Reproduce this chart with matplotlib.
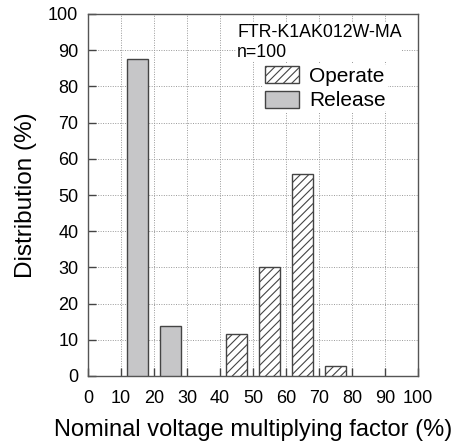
import matplotlib
matplotlib.use("Agg")
import matplotlib.pyplot as plt
from matplotlib.patches import Patch

plt.rcParams['font.family'] = ['Liberation Sans', 'DejaVu Sans']
plt.rcParams['hatch.linewidth'] = 0.8

release_x = [15, 25]
release_vals = [87.5, 13.8]
operate_x = [45, 55, 65, 75]
operate_vals = [11.6, 30.0, 55.8, 2.8]
ticks = [0, 10, 20, 30, 40, 50, 60, 70, 80, 90, 100]
model = "FTR-K1AK012W-MA"
n_text = "n=100"

fig = plt.figure(figsize=(4.64, 4.45), dpi=100)
ax = fig.add_axes([88/464, 1-376/445, (418-88)/464, (376-14)/445])

edge = '#444444'
grey = '#c6c6c8'
ax.bar(release_x, release_vals, width=6.4, color=grey, edgecolor=edge, linewidth=1.0, zorder=3)
ax.bar(operate_x, operate_vals, width=6.4, color='white', edgecolor=edge, linewidth=1.0, hatch='////', zorder=3)

ax.set_xlim(0, 100)
ax.set_ylim(0, 100)
ax.set_xticks(ticks)
ax.set_yticks(ticks)
ax.grid(True, linestyle=(0, (1, 1.5)), color='#999999', linewidth=0.7, zorder=0)
ax.tick_params(direction='in', length=6, width=1, color=edge, labelsize=13)
ax.tick_params(axis='x', pad=10)
ax.tick_params(axis='y', pad=7)
for s in ax.spines.values():
    s.set_color('#555555')
    s.set_linewidth(1.0)

ax.set_xlabel('Nominal voltage multiplying factor (%)', fontsize=17, labelpad=9)
ax.set_ylabel('Distribution (%)', fontsize=17.5, labelpad=8)

ax.text(0.452, 0.972, model + "\n" + n_text, transform=ax.transAxes, fontsize=12.8,
        va='top', ha='left', linespacing=1.2, zorder=5,
        bbox=dict(facecolor='white', edgecolor='none', pad=0.5))

handles = [Patch(facecolor='white', edgecolor=edge, hatch='////', label='Operate'),
           Patch(facecolor=grey, edgecolor=edge, label='Release')]
leg = ax.legend(handles=handles, loc='upper left', bbox_to_anchor=(0.53, 0.862),
                frameon=True, fontsize=15, handlelength=1.63, handleheight=0.87,
                handletextpad=0.48, labelspacing=0.24, borderpad=0.1, borderaxespad=0)
leg.get_frame().set_edgecolor('none')
leg.get_frame().set_facecolor('white')
leg.get_frame().set_alpha(1)

fig.savefig('out.png', dpi=100)
